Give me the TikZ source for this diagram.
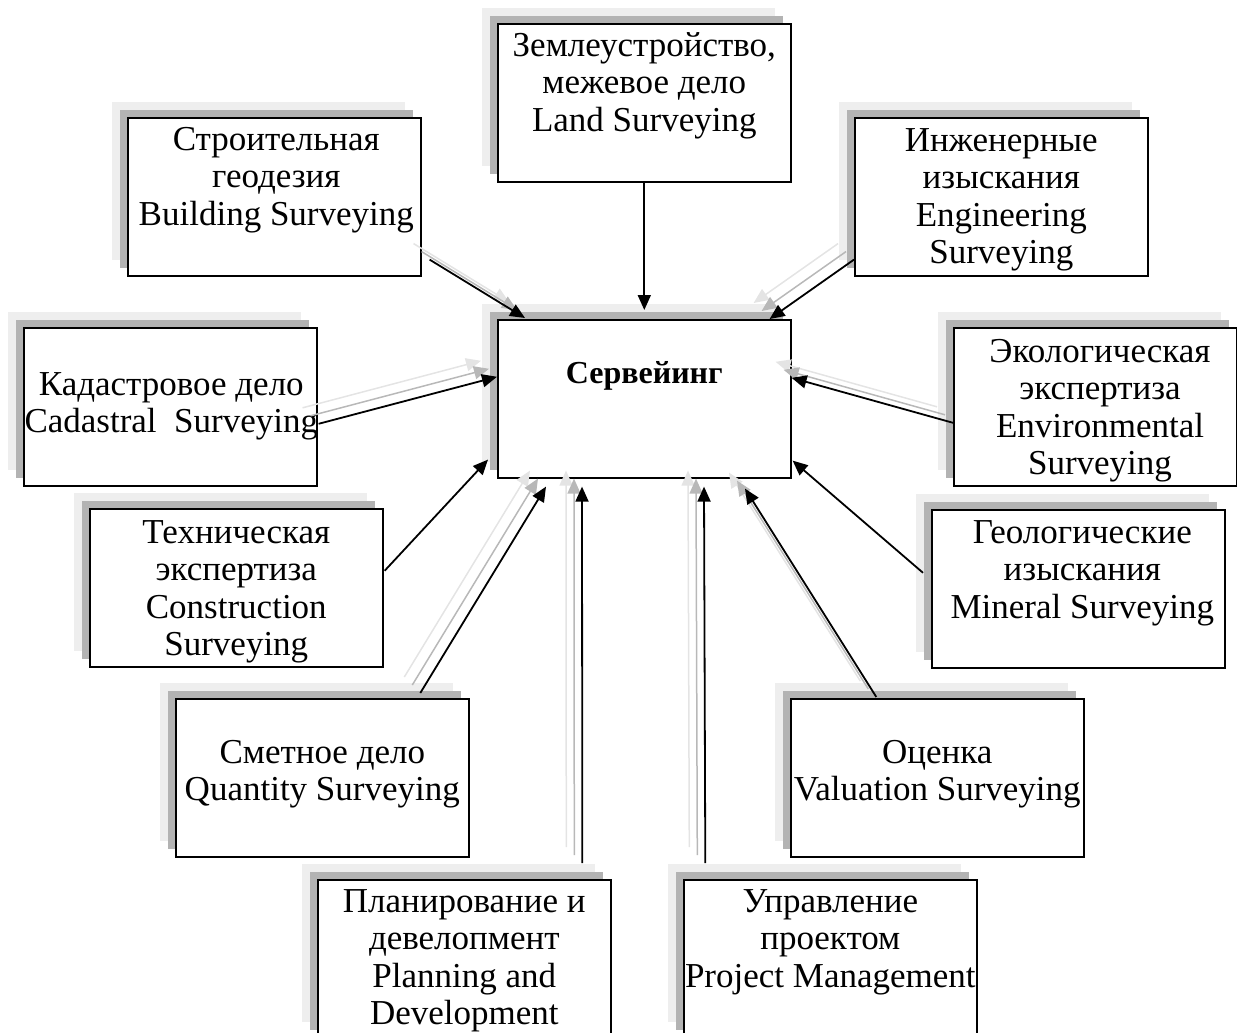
\documentclass[tikz,border=0pt]{standalone}
\usepackage{fontspec}
\setmainfont{Liberation Serif}
\usetikzlibrary{arrows.meta,shadows,calc}
\definecolor{shL}{HTML}{EEEEEE}
\definecolor{shD}{HTML}{B3B3B3}
\definecolor{arL}{HTML}{E4E4E4}
\definecolor{arD}{HTML}{B8B8B8}
% arrow with two offset grey copies behind it
\newcommand\shadedarrow[2]{%
  \draw[arrL, transform canvas={shift={(-16pt,16pt)}}] (#1) -- (#2);
  \draw[arrD, transform canvas={shift={(-8pt,8pt)}}] (#1) -- (#2);
  \draw[arr] (#1) -- (#2);}
\begin{document}
\begin{tikzpicture}[x=1pt,y=-1pt,
  box/.style={draw=black, line width=1.6pt, fill=white, anchor=north west,
    minimum width=293pt, minimum height=158pt, inner sep=0pt,
    general shadow={shadow xshift=-16pt, shadow yshift=16pt, fill=shL},
    general shadow={shadow xshift=-8pt, shadow yshift=8pt, fill=shD}},
  lbl/.style={anchor=north, inner sep=0pt, align=center,
    font=\fontsize{35}{37.5}\selectfont},
  tip/.style={-{Triangle[length=15pt,width=13pt]}},
  arr/.style={tip, draw=black, line width=1.8pt},
  arrD/.style={tip, draw=arD, fill=arD, line width=1.5pt},
  arrL/.style={tip, draw=arL, fill=arL, line width=1.5pt}]

\useasboundingbox (0,0) rectangle (1237,1033);
\clip (0,0) rectangle (1237,1033);

% boxes
\node[box] (land)  at (497,23)  {};
\node[box] (build) at (127,117) {};
\node[box] (eng)   at (854,117) {};
\node[box] (c)     at (497,319) {};
\node[box] (cad)   at (23,327)  {};
\node[box, minimum width=283pt] (eco) at (953,327) {};
\node[box] (tech)  at (89,508)  {};
\node[box] (geo)   at (931,509) {};
\node[box] (smet)  at (175,698) {};
\node[box] (val)   at (790,698) {};
\node[box] (plan)  at (317,879) {};
\node[box] (proj)  at (683,879) {};

% labels
\node[lbl] (land-t)  at (land.north) {\rule{0pt}{33pt}Землеустройство,\\межевое дело\\Land Surveying};
\node[lbl] (build-t) at ($(build.north)+(2,0)$) {\rule{0pt}{33pt}Строительная\\геодезия\\Building Surveying};
\node[lbl] (eng-t)   at (eng.north) {\rule{0pt}{34pt}Инженерные\\изыскания\\Engineering\\Surveying};
\node[lbl, font=\fontsize{32}{37.5}\selectfont\bfseries] (c-t) at ($(c.north)+(0,31)$) {\rule{0pt}{33pt}Сервейинг};
\node[lbl] (cad-t)   at ($(cad.north)+(1,35)$) {\rule{0pt}{33pt}Кадастровое дело\\Cadastral\ \ Surveying};
\node[lbl] (eco-t)   at (1100,327) {\rule{0pt}{35pt}Экологическая\\экспертиза\\Environmental\\Surveying};
\node[lbl] (tech-t)  at (tech.north) {\rule{0pt}{35pt}Техническая\\экспертиза\\Construction\\Surveying};
\node[lbl] (geo-t)   at ($(geo.north)+(4,0)$) {\rule{0pt}{34pt}Геологические\\изыскания\\Mineral Surveying};
\node[lbl] (smet-t)  at ($(smet.north)+(0,32)$) {\rule{0pt}{33pt}Сметное дело\\Quantity Surveying};
\node[lbl] (val-t)   at ($(val.north)+(0,32)$) {\rule{0pt}{33pt}Оценка\\Valuation Surveying};
\node[lbl] (plan-t)  at (plan.north) {\rule{0pt}{33pt}Планирование и\\девелопмент\\Planning and\\Development};
\node[lbl] (proj-t)  at (proj.north) {\rule{0pt}{33pt}Управление\\проектом\\Project Management};

% arrow ends
\coordinate (land-a)  at (land.south);
\coordinate (land-b)  at ($(c.north)+(0,-9)$);
\coordinate (build-a) at ($(build.south east)+(8,-17)$);
\coordinate (build-b) at ($(c.north west)+(28,-1)$);
\coordinate (eng-a)   at ($(eng.south west)+(0,-17)$);
\coordinate (eng-b)   at ($(c.north east)+(-22,0)$);
\coordinate (cad-a)   at ($(cad.east)+(1,17)$);
\coordinate (cad-b)   at ($(c.west)+(0,-22)$);
\coordinate (eco-a)   at ($(eco.west)+(0,16)$);
\coordinate (eco-b)   at ($(c.east)+(0,-21)$);
\coordinate (tech-a)  at ($(tech.east)+(1,-17)$);
\coordinate (tech-b)  at ($(c.south west)+(-9,-19)$);
\coordinate (geo-a)   at ($(geo.west)+(-8,-16)$);
\coordinate (geo-b)   at ($(c.south east)+(1,-18)$);
\coordinate (smet-a)  at ($(smet.north)+(98,-5)$);
\coordinate (smet-b)  at ($(c.south west)+(49,8)$);
\coordinate (plan-a)  at ($(plan.north)+(118,-16)$);
\coordinate (plan-b)  at ($(c.south west)+(85,8)$);
\coordinate (proj-a)  at ($(proj.north)+(-125,-16)$);
\coordinate (proj-b)  at ($(c.south west)+(207,8)$);
\coordinate (val-a)   at ($(val.north)+(-61,-1)$);
\coordinate (val-b)   at ($(c.south west)+(248,10)$);

% connectors
\draw[arr] (land-a) -- (land-b);
\draw[arr] (tech-a) -- (tech-b);
\draw[arr] (geo-a) -- (geo-b);
\shadedarrow{build-a}{build-b}
\shadedarrow{eng-a}{eng-b}
\shadedarrow{cad-a}{cad-b}
\shadedarrow{eco-a}{eco-b}
\shadedarrow{smet-a}{smet-b}
\shadedarrow{plan-a}{plan-b}
\shadedarrow{proj-a}{proj-b}
\shadedarrow{val-a}{val-b}
\end{tikzpicture}
\end{document}
